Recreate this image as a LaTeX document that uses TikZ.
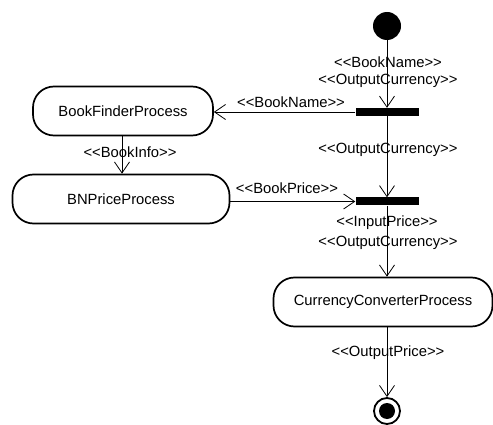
\documentclass[tikz,border=0pt]{standalone}
\usepackage{fontspec}
\setmainfont{Liberation Sans}
\usetikzlibrary{arrows.meta,positioning}

\begin{document}
\begin{tikzpicture}[x=1pt,y=-1pt]
\fontsize{14.8}{17}\selectfont

\tikzstyle{process}=[draw,line width=1.7pt,rounded corners=21pt,minimum height=49pt,inner sep=0pt]
\tikzstyle{forkbar}=[fill,inner sep=0pt,minimum width=63pt,minimum height=8pt]
\tikzstyle{flow}=[line width=0.8pt,-{Straight Barb[length=11pt,width=15pt]}]
\tikzstyle{stereo}=[inner sep=0pt]

\useasboundingbox (0,0) rectangle (493,425);

%% start, forks and end
\node [circle,fill,minimum size=28pt,inner sep=0pt] (start) at (387,26) {};
\node [forkbar] (forkA) at (387,112) {};
\node [forkbar] (forkB) at (387,201.5) {};
\node [circle,draw,line width=1.8pt,minimum size=26pt,inner sep=0pt] (stop) at (387,411) {};
\node [circle,fill,minimum size=16pt,inner sep=0pt] (stopdot) at (stop) {};

%% activities
\node [process,minimum width=180pt] (finder) at (123,111) {BookFinderProcess};
\node [process,minimum width=217pt] (bnprice) at (121,199) {BNPriceProcess};
\node [process,minimum width=219pt] (converter) at (383,302) {CurrencyConverterProcess};

%% flows
\draw [flow] (start) -- (forkA);
\draw [flow] (forkA.west) -- (finder.east |- forkA.west);
\draw [flow] (forkA) -- (forkB);
\draw [flow] (finder.south -| 122,0) -- (bnprice.north -| 122,0);
\draw [flow] (bnprice.east |- forkB.west) -- (forkB.west);
\draw [flow] (forkB) -- (converter.north -| forkB);
\draw [flow] (converter.south -| stop) -- (stop);

%% object labels
\node [stereo] (lblA) at (388,62) {<{}<BookName>{}>};
\node [stereo] (lblB) at (388,81) {<{}<OutputCurrency>{}>};
\node [stereo] (lblC) at (291,102) {<{}<BookName>{}>};
\node [stereo] (lblD) at (130,152) {<{}<BookInfo>{}>};
\node [stereo] (lblE) at (388,150) {<{}<OutputCurrency>{}>};
\node [stereo] (lblF) at (287,188) {<{}<BookPrice>{}>};
\node [stereo] (lblG) at (387,223) {<{}<InputPrice>{}>};
\node [stereo] (lblH) at (388,243) {<{}<OutputCurrency>{}>};
\node [stereo] (lblI) at (388,353) {<{}<OutputPrice>{}>};

\end{tikzpicture}
\end{document}
